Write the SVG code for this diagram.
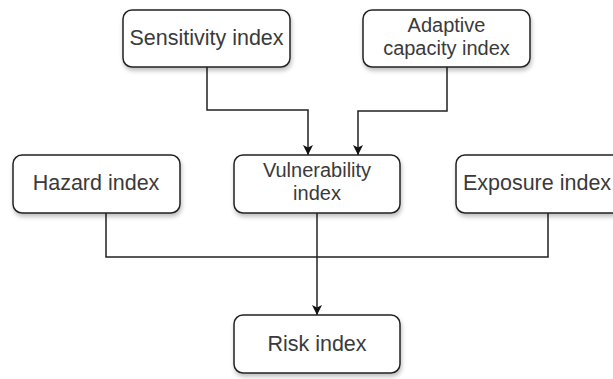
<svg xmlns="http://www.w3.org/2000/svg" width="613" height="379" viewBox="0 0 613 379">
<defs>
<style>
.box{fill:#fff;stroke:#222;stroke-width:1.5;filter:url(#sh)}
.lbl{font-family:"Liberation Sans",Arial,sans-serif;font-size:21.5px;fill:#3a3a3a;text-anchor:middle}
.two{font-size:20px}
.con{fill:none;stroke:#222;stroke-width:1.5}
</style>
<filter id="sh" x="-10%" y="-10%" width="125%" height="140%">
<feDropShadow dx="1" dy="3" stdDeviation="2" flood-color="#000" flood-opacity="0.25"/>
</filter>
<marker id="ar" viewBox="0 0 10 10" refX="10" refY="5" markerWidth="10" markerHeight="10" markerUnits="userSpaceOnUse" orient="auto">
<path d="M0,0 L10,5 L0,10 L2.5,5 Z" fill="#111"/>
</marker>
</defs>
<rect width="613" height="379" fill="#fff"/>
<g id="connectors">
<path class="con" d="M207,67 V110 H308 V155" marker-end="url(#ar)"/>
<path class="con" d="M447,67 V111 H358 V155" marker-end="url(#ar)"/>
<path class="con" d="M106,213 V257 H548 V213"/>
<path class="con" d="M317,213 V315" marker-end="url(#ar)"/>
</g>
<g id="sensitivity"><rect class="box" x="123" y="10" width="167" height="57" rx="9"/><text class="lbl" x="206.5" y="45">Sensitivity index</text></g>
<g id="adaptive"><rect class="box" x="363" y="10" width="167" height="57" rx="9"/><text class="lbl two" x="446.5" y="32">Adaptive</text><text class="lbl two" x="446.5" y="55">capacity index</text></g>
<g id="hazard"><rect class="box" x="13" y="155" width="167" height="58" rx="9"/><text class="lbl" x="96" y="190">Hazard index</text></g>
<g id="vulnerability"><rect class="box" x="234" y="155" width="166" height="58" rx="9"/><text class="lbl two" x="317" y="177">Vulnerability</text><text class="lbl two" x="317" y="200">index</text></g>
<g id="exposure"><rect class="box" x="456" y="155" width="167" height="58" rx="9"/><text class="lbl" x="537" y="190">Exposure index</text></g>
<g id="risk"><rect class="box" x="234" y="315" width="166" height="58" rx="9"/><text class="lbl" x="317" y="351">Risk index</text></g>
</svg>
